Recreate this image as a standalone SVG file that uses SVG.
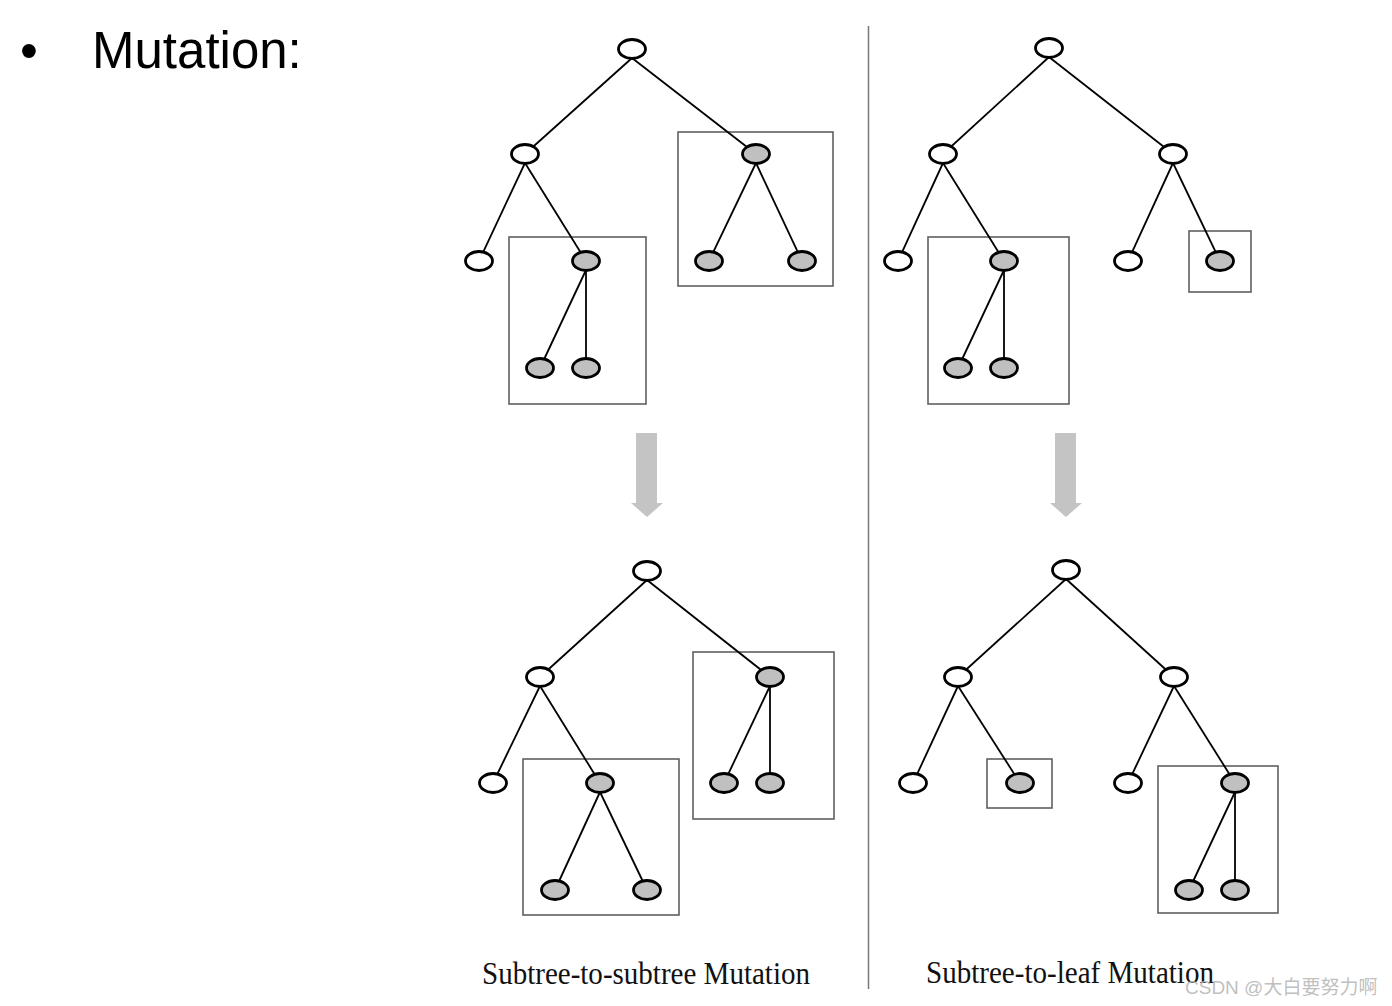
<svg xmlns="http://www.w3.org/2000/svg" width="1392" height="1006" viewBox="0 0 1392 1006">
<style>
.e{stroke:#000;stroke-width:1.8;fill:none}
.w{fill:#fff;stroke:#000;stroke-width:2.8}
.g{fill:#c0c0c0;stroke:#000;stroke-width:2.8}
.box{fill:none;stroke:#606060;stroke-width:1.6}
.arr{fill:#c4c4c4}
.lbl{font-family:"Liberation Serif","Times New Roman",serif;font-size:31px;fill:#111}
.title{font-family:"Liberation Sans",Arial,sans-serif;font-size:51px;fill:#000}
</style>
<rect width="1392" height="1006" fill="#fff"/>
<g id="title">
<text class="title" x="20" y="68">•</text>
<text class="title" x="92" y="68">Mutation:</text>
</g>
<line id="divider" x1="868.5" y1="26" x2="868.5" y2="989" stroke="#777" stroke-width="1.5"/>
<g id="boxes">
<rect class="box" x="509" y="237" width="137" height="167"/>
<rect class="box" x="678" y="132" width="155" height="154"/>
<rect class="box" x="928" y="237" width="141" height="167"/>
<rect class="box" x="1189" y="231" width="62" height="61"/>
<rect class="box" x="523" y="759" width="156" height="156"/>
<rect class="box" x="693" y="652" width="141" height="167"/>
<rect class="box" x="987" y="759" width="65" height="49"/>
<rect class="box" x="1158" y="766" width="120" height="147"/>
</g>
<g id="connectors">
<line class="e" x1="632" y1="58" x2="525" y2="154"/>
<line class="e" x1="632" y1="58" x2="756" y2="154"/>
<line class="e" x1="525" y1="163" x2="479" y2="261"/>
<line class="e" x1="525" y1="163" x2="586" y2="261"/>
<line class="e" x1="586" y1="270" x2="540" y2="368"/>
<line class="e" x1="586" y1="270" x2="586" y2="368"/>
<line class="e" x1="756" y1="163" x2="709" y2="261"/>
<line class="e" x1="756" y1="163" x2="802" y2="261"/>

<line class="e" x1="1049" y1="57" x2="943" y2="154"/>
<line class="e" x1="1049" y1="57" x2="1173" y2="154"/>
<line class="e" x1="943" y1="163" x2="898" y2="261"/>
<line class="e" x1="943" y1="163" x2="1004" y2="261"/>
<line class="e" x1="1004" y1="270" x2="958" y2="368"/>
<line class="e" x1="1004" y1="270" x2="1004" y2="368"/>
<line class="e" x1="1173" y1="163" x2="1128" y2="261"/>
<line class="e" x1="1173" y1="163" x2="1220" y2="261"/>

<line class="e" x1="647" y1="580" x2="540" y2="677"/>
<line class="e" x1="647" y1="580" x2="770" y2="677"/>
<line class="e" x1="540" y1="686" x2="493" y2="783"/>
<line class="e" x1="540" y1="686" x2="600" y2="783"/>
<line class="e" x1="600" y1="792" x2="555" y2="890"/>
<line class="e" x1="600" y1="792" x2="647" y2="890"/>
<line class="e" x1="770" y1="686" x2="724" y2="783"/>
<line class="e" x1="770" y1="686" x2="770" y2="783"/>

<line class="e" x1="1066" y1="579" x2="958" y2="677"/>
<line class="e" x1="1066" y1="579" x2="1174" y2="677"/>
<line class="e" x1="958" y1="686" x2="913" y2="783"/>
<line class="e" x1="958" y1="686" x2="1020" y2="783"/>
<line class="e" x1="1174" y1="686" x2="1128" y2="783"/>
<line class="e" x1="1174" y1="686" x2="1235" y2="783"/>
<line class="e" x1="1235" y1="792" x2="1189" y2="890"/>
<line class="e" x1="1235" y1="792" x2="1235" y2="890"/>

<polygon class="arr" points="636,433 657,433 657,503 663,503 647,517 631,503 636,503"/>
<polygon class="arr" points="1055,433 1076,433 1076,503 1082,503 1066,517 1050,503 1055,503"/>
</g>
<g id="treeA">
<g id="A0"><ellipse class="w" cx="632" cy="49" rx="13.5" ry="9.5"/></g>
<g id="A1"><ellipse class="w" cx="525" cy="154" rx="13.5" ry="9.5"/></g>
<g id="A2"><ellipse class="g" cx="756" cy="154" rx="13.5" ry="9.5"/></g>
<g id="A3"><ellipse class="w" cx="479" cy="261" rx="13.5" ry="9.5"/></g>
<g id="A4"><ellipse class="g" cx="586" cy="261" rx="13.5" ry="9.5"/></g>
<g id="A5"><ellipse class="g" cx="709" cy="261" rx="13.5" ry="9.5"/></g>
<g id="A6"><ellipse class="g" cx="802" cy="261" rx="13.5" ry="9.5"/></g>
<g id="A7"><ellipse class="g" cx="540" cy="368" rx="13.5" ry="9.5"/></g>
<g id="A8"><ellipse class="g" cx="586" cy="368" rx="13.5" ry="9.5"/></g>
</g>
<g id="treeB">
<g id="B0"><ellipse class="w" cx="1049" cy="48" rx="13.5" ry="9.5"/></g>
<g id="B1"><ellipse class="w" cx="943" cy="154" rx="13.5" ry="9.5"/></g>
<g id="B2"><ellipse class="w" cx="1173" cy="154" rx="13.5" ry="9.5"/></g>
<g id="B3"><ellipse class="w" cx="898" cy="261" rx="13.5" ry="9.5"/></g>
<g id="B4"><ellipse class="g" cx="1004" cy="261" rx="13.5" ry="9.5"/></g>
<g id="B5"><ellipse class="w" cx="1128" cy="261" rx="13.5" ry="9.5"/></g>
<g id="B6"><ellipse class="g" cx="1220" cy="261" rx="13.5" ry="9.5"/></g>
<g id="B7"><ellipse class="g" cx="958" cy="368" rx="13.5" ry="9.5"/></g>
<g id="B8"><ellipse class="g" cx="1004" cy="368" rx="13.5" ry="9.5"/></g>
</g>
<g id="treeC">
<g id="C0"><ellipse class="w" cx="647" cy="571" rx="13.5" ry="9.5"/></g>
<g id="C1"><ellipse class="w" cx="540" cy="677" rx="13.5" ry="9.5"/></g>
<g id="C2"><ellipse class="g" cx="770" cy="677" rx="13.5" ry="9.5"/></g>
<g id="C3"><ellipse class="w" cx="493" cy="783" rx="13.5" ry="9.5"/></g>
<g id="C4"><ellipse class="g" cx="600" cy="783" rx="13.5" ry="9.5"/></g>
<g id="C5"><ellipse class="g" cx="724" cy="783" rx="13.5" ry="9.5"/></g>
<g id="C6"><ellipse class="g" cx="770" cy="783" rx="13.5" ry="9.5"/></g>
<g id="C7"><ellipse class="g" cx="555" cy="890" rx="13.5" ry="9.5"/></g>
<g id="C8"><ellipse class="g" cx="647" cy="890" rx="13.5" ry="9.5"/></g>
</g>
<g id="treeD">
<g id="D0"><ellipse class="w" cx="1066" cy="570" rx="13.5" ry="9.5"/></g>
<g id="D1"><ellipse class="w" cx="958" cy="677" rx="13.5" ry="9.5"/></g>
<g id="D2"><ellipse class="w" cx="1174" cy="677" rx="13.5" ry="9.5"/></g>
<g id="D3"><ellipse class="w" cx="913" cy="783" rx="13.5" ry="9.5"/></g>
<g id="D4"><ellipse class="g" cx="1020" cy="783" rx="13.5" ry="9.5"/></g>
<g id="D5"><ellipse class="w" cx="1128" cy="783" rx="13.5" ry="9.5"/></g>
<g id="D6"><ellipse class="g" cx="1235" cy="783" rx="13.5" ry="9.5"/></g>
<g id="D7"><ellipse class="g" cx="1189" cy="890" rx="13.5" ry="9.5"/></g>
<g id="D8"><ellipse class="g" cx="1235" cy="890" rx="13.5" ry="9.5"/></g>
</g>
<g id="labels">
<text class="lbl" x="482" y="984" textLength="328" lengthAdjust="spacingAndGlyphs">Subtree-to-subtree Mutation</text>
<text class="lbl" x="926" y="983" textLength="288" lengthAdjust="spacingAndGlyphs">Subtree-to-leaf Mutation</text>
<text x="1185" y="994" font-family="'Liberation Sans','Noto Sans CJK SC',sans-serif" font-size="19" fill="#b8b8b8" fill-opacity="0.9">CSDN @大白要努力啊</text>
</g>
</svg>
